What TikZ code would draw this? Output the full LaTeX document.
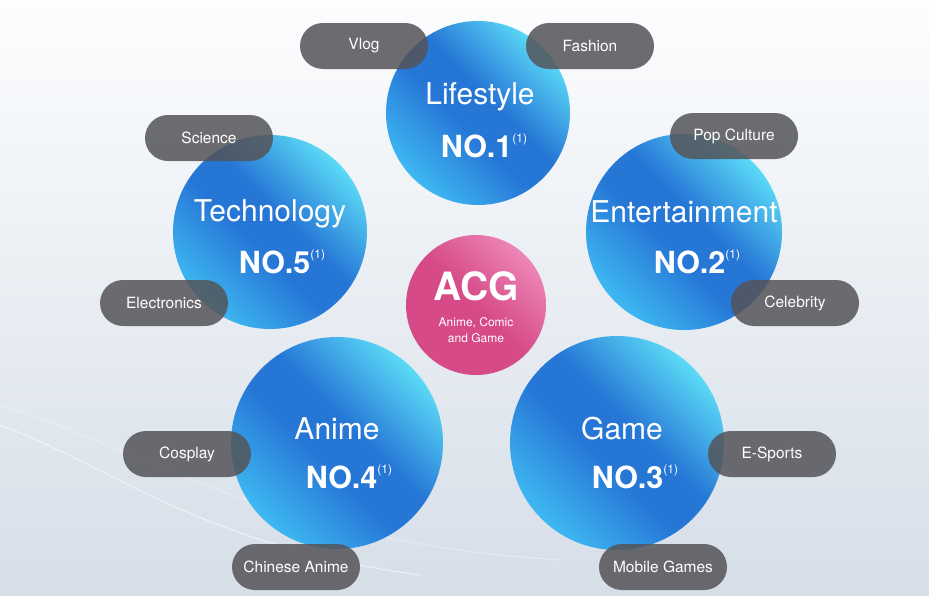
\documentclass[tikz,border=0pt]{standalone}
\usepackage{fontspec}
\setmainfont{TeX Gyre Heros}
\definecolor{bgtop}{RGB}{252, 253, 254}
\definecolor{bgbottom}{RGB}{214, 222, 232}
\definecolor{ballblue}{RGB}{38, 118, 214}
\definecolor{ballcyan}{RGB}{96, 228, 249}
\definecolor{balllight}{RGB}{62, 184, 242}
\definecolor{acgpink}{RGB}{214, 74, 136}
\definecolor{acglight}{RGB}{238, 136, 184}
\definecolor{pillgray}{RGB}{84, 84, 88}
\usepackage{tikz}
\usetikzlibrary{positioning,calc}
\pgfdeclareverticalshading{ballshade}{100bp}{color(0bp)=(balllight); color(25bp)=(balllight); color(45bp)=(ballblue); color(55bp)=(ballblue); color(77bp)=(ballcyan); color(100bp)=(ballcyan)}
\pgfdeclareverticalshading{acgshade}{100bp}{color(0bp)=(acgpink); color(50bp)=(acgpink); color(76bp)=(acglight); color(100bp)=(acglight)}
\newcommand{\rnk}{\raisebox{15pt}{\normalfont\fontsize{12}{12}\selectfont(1)}}

\begin{document}
\begin{tikzpicture}[x=1pt, y=-1pt,
    ball/.style={circle, inner sep=0pt, shading=ballshade, shading angle=-45},
    pill/.style={rectangle, rounded corners=23pt, minimum width=128pt, minimum height=46pt, fill=pillgray, fill opacity=0.85, text opacity=1, text=white, font=\fontsize{15.5}{18}\selectfont},
    title/.style={text=white, font=\fontsize{30}{34}\selectfont},
    rank/.style={text=white, font=\fontsize{30.5}{34}\selectfont\bfseries}]
        % Background
        \fill[top color=bgtop, bottom color=bgbottom] (0,0) rectangle (929,595);
        \useasboundingbox (0,0) rectangle (929,595);
        \draw[white, opacity=0.6, line width=1pt] (0,425) .. controls (120,470) and (200,545) .. (420,575);
        \draw[white, opacity=0.4, line width=0.8pt] (0,405) .. controls (150,450) and (260,540) .. (560,560);

        % Category circles
        \node[ball, minimum size=184pt] (Life) at (478,113) {};
        \node[ball, minimum size=194pt] (Tech) at (270,232) {};
        \node[ball, minimum size=196pt] (Ent) at (684,232) {};
        \node[ball, minimum size=212pt] (Anime) at (337,443) {};
        \node[ball, minimum size=214pt] (Game) at (617,443) {};
        \node[circle, inner sep=0pt, minimum size=140pt, shading=acgshade, shading angle=-45] (ACG) at (476,305) {};

        % Circle texts
        \node[title] (LifeT) at (480,97) {Lifestyle};
        \node[rank] (LifeN) at (484,146) {NO.1\rnk};
        \node[title] (TechT) at (270,214) {Technology};
        \node[rank] (TechN) at (282,262) {NO.5\rnk};
        \node[title] (EntT) at (684,212) {Entertainment};
        \node[rank] (EntN) at (697,262) {NO.2\rnk};
        \node[title] (AnimeT) at (337,429) {Anime};
        \node[rank] (AnimeN) at (349,477) {NO.4\rnk};
        \node[title] (GameT) at (622,429) {Game};
        \node[rank] (GameN) at (635,477) {NO.3\rnk};
        \node[text=white, font=\fontsize{39}{44}\selectfont\bfseries] (ACGT) at (476,286) {ACG};
        \node[text=white, align=center, font=\fontsize{12}{16}\selectfont] (ACGS) at (476,330) {Anime, Comic\\and Game};

        % Tags
        \node[pill] (Vlog) at (364,46) {Vlog};
        \node[pill] (Fashion) at (590,46) {Fashion};
        \node[pill] (Science) at (209,138) {Science};
        \node[pill] (Pop) at (734,136) {Pop Culture};
        \node[pill] (Elec) at (164,303) {Electronics};
        \node[pill] (Celeb) at (795,303) {Celebrity};
        \node[pill] (Cosplay) at (187,454) {Cosplay};
        \node[pill] (Esports) at (772,454) {E-Sports};
        \node[pill] (Chinese) at (296,567) {Chinese Anime};
        \node[pill] (Mobile) at (663,567) {Mobile Games};
      \end{tikzpicture}
\end{document}
